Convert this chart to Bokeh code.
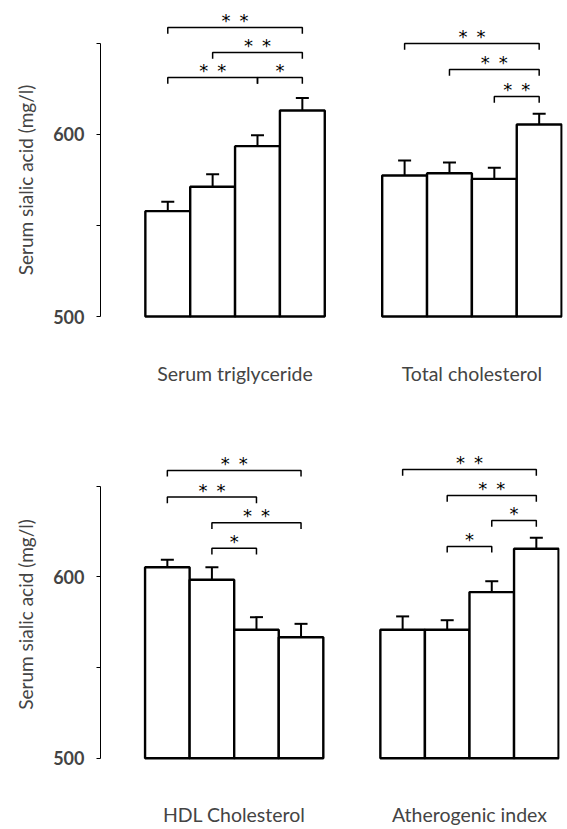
from bokeh.plotting import figure
from bokeh.models import ColumnDataSource, Whisker, TeeHead, FixedTicker, Range1d
from bokeh.layouts import column
from bokeh.embed import file_html
from bokeh.resources import INLINE
from bokeh.core.properties import value

# ---------------- data ----------------
y_label = "Serum sialic acid (mg/l)"
y_ticks = [500, 550, 600, 650]
y_tick_labels = {500: "500", 550: "", 600: "600", 650: ""}

top_names = ["Serum triglyceride", "Total cholesterol"]
bottom_names = ["HDL Cholesterol", "Atherogenic index"]

tg_mean = [557.9, 571.3, 593.6, 613.2]
tg_se = [5.1, 6.9, 6.0, 6.8]
tc_mean = [577.5, 578.7, 575.6, 605.5]
tc_se = [8.2, 5.9, 6.1, 5.9]
hdl_mean = [605.3, 598.4, 570.8, 566.7]
hdl_se = [4.1, 6.9, 7.0, 7.4]
ai_mean = [570.8, 570.8, 591.6, 615.5]
ai_se = [7.4, 5.3, 6.0, 6.1]

# significance brackets: (from bar, to bar, height, marker)
tg_sig = [(1, 4, 658.8, "**"), (2, 4, 645.0, "**"), (1, 3, 631.3, "**"), (3, 4, 631.3, "*")]
tc_sig = [(1, 4, 650.0, "**"), (2, 4, 635.7, "**"), (3, 4, 620.9, "**")]
hdl_sig = [(1, 4, 658.7, "**"), (1, 3, 644.0, "**"), (2, 4, 629.8, "**"), (2, 3, 615.8, "*")]
ai_sig = [(1, 4, 659.2, "**"), (2, 4, 644.9, "**"), (3, 4, 631.1, "*"), (2, 3, 616.8, "*")]

# ---------------- layout / style constants ----------------
GROUP_OFFSET = 5.28
BASE = 500
LEG = 3.4
FONT = "Lato"


def make_row(panels, names, frame_w, frame_h, y_start, y_end,
             border_left, border_bottom, label_standoff):
    p = figure(frame_width=frame_w, frame_height=frame_h,
               x_range=Range1d(-0.5, 9.8), y_range=Range1d(y_start, y_end),
               output_backend="svg", toolbar_location=None,
               min_border_left=border_left, min_border_right=8,
               min_border_top=0, min_border_bottom=border_bottom)
    p.outline_line_color = None
    p.xgrid.visible = False
    p.ygrid.visible = False
    p.background_fill_color = "white"
    p.border_fill_color = "white"

    centers = []
    for g, (means, ses, sig) in enumerate(panels):
        off = g * GROUP_OFFSET
        xs = [i + 1 + off for i in range(len(means))]
        centers.append(sum(xs) / len(xs))
        src = ColumnDataSource(dict(x=xs, top=means,
                                    upper=[m + s for m, s in zip(means, ses)]))
        w = Whisker(source=src, base="x", upper="upper", lower="top",
                    upper_head=TeeHead(size=13, line_width=2, line_color="black"),
                    lower_head=None, line_width=2, line_color="black")
        p.add_layout(w)
        p.vbar(x="x", width=1, bottom=BASE, top="top", source=src,
               fill_color="white", line_color="black", line_width=2.4)

        bx, by, tx, ty, tt = [], [], [], [], []
        for a, b, h, mark in sig:
            xa, xb = a + off, b + off
            bx.append([xa, xa, xb, xb])
            by.append([h - LEG, h, h, h - LEG])
            tx.append((xa + xb) / 2)
            ty.append(h)
            tt.append("\u2002".join(mark))
        p.multi_line(bx, by, line_color="black", line_width=1.5)
        p.text(tx, ty, text=tt, text_font=value("DejaVu Sans"),
               text_font_size="18px", text_align="center",
               text_baseline="middle", y_offset=-7, text_color="black")

    ya = p.yaxis[0]
    ya.ticker = FixedTicker(ticks=y_ticks)
    ya.bounds = (500, 650)
    ya.major_label_overrides = y_tick_labels
    ya.major_tick_out = 4
    ya.major_tick_in = 0
    ya.minor_tick_out = 0
    ya.minor_tick_in = 0
    ya.axis_line_width = 1
    ya.major_label_text_font = FONT
    ya.major_label_text_font_size = "18px"
    ya.major_label_text_font_style = "bold"
    ya.major_label_standoff = 12
    ya.axis_label = y_label
    ya.axis_label_text_font = FONT
    ya.axis_label_text_font_size = "19px"
    ya.axis_label_text_font_style = "normal"
    ya.axis_label_standoff = 13

    xa = p.xaxis[0]
    xa.ticker = FixedTicker(ticks=centers)
    xa.major_label_overrides = {c: n for c, n in zip(centers, names)}
    xa.axis_line_color = None
    xa.major_tick_line_color = None
    xa.minor_tick_line_color = None
    xa.major_tick_out = 0
    xa.major_label_text_font = FONT
    xa.major_label_text_font_size = "19.5px"
    xa.major_label_standoff = label_standoff
    return p


p1 = make_row([(tg_mean, tg_se, tg_sig), (tc_mean, tc_se, tc_sig)], top_names,
              frame_w=462, frame_h=359, y_start=476.4, y_end=673.6,
              border_left=97, border_bottom=91, label_standoff=2)
p2 = make_row([(hdl_mean, hdl_se, hdl_sig), (ai_mean, ai_se, ai_sig)], bottom_names,
              frame_w=459, frame_h=328, y_start=488.8, y_end=669.7,
              border_left=100, border_bottom=51, label_standoff=24)

layout = column(p1, p2, spacing=0)
open("out.html", "w").write(file_html(layout, INLINE))
